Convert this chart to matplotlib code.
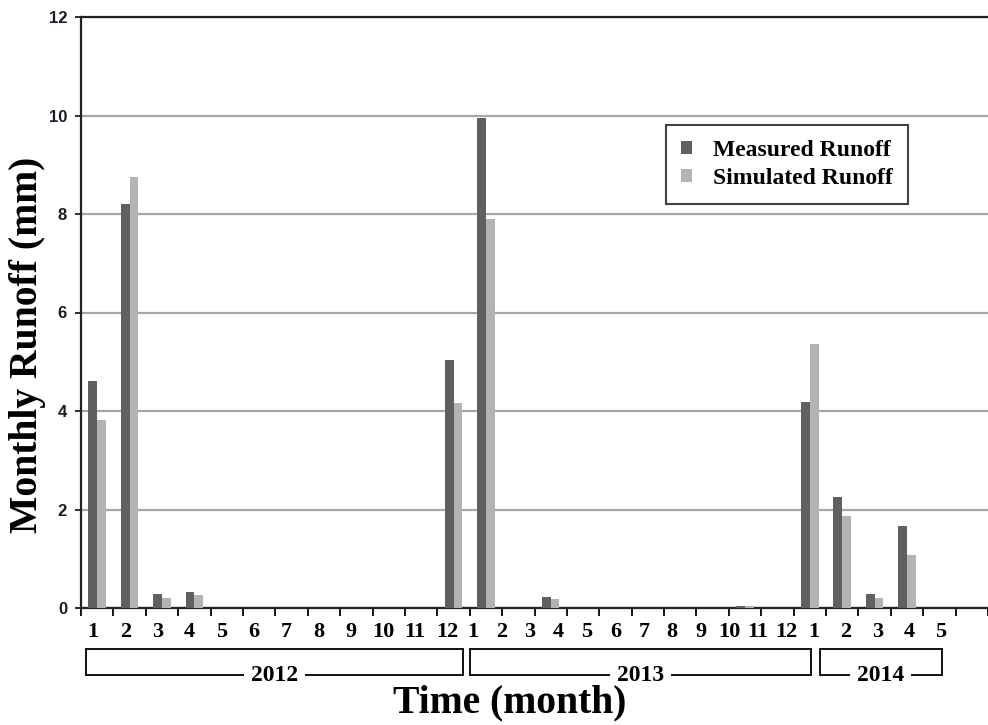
import numpy as np
import matplotlib
matplotlib.use('agg')
from matplotlib import pyplot as plt
from matplotlib.patches import Rectangle
from matplotlib import transforms

# month slots, Jan 2012 .. May 2014
years = ['2012', '2013', '2014']
months_per_year = [12, 12, 5]
month_labels = [str(m) for n in months_per_year for m in range(1, n + 1)]

measured = [4.60, 8.21, 0.29, 0.33, 0, 0, 0, 0, 0, 0, 0, 5.04,
            9.95, 0, 0.22, 0, 0, 0, 0, 0, 0.05, 0, 4.18, 2.26,
            0.28, 1.67, 0, 0, 0]
simulated = [3.82, 8.76, 0.21, 0.26, 0, 0, 0, 0, 0, 0, 0, 4.17,
             7.90, 0, 0.18, 0, 0, 0, 0, 0, 0.04, 0, 5.37, 1.87,
             0.21, 1.08, 0, 0, 0]

serif = 'Liberation Serif'
sans = 'Liberation Sans'

fig = plt.figure(figsize=(9.88, 7.25), dpi=100)
ax = fig.add_axes([81 / 988, 1 - 608 / 725, 1 - 81 / 988, 591 / 725])

x = np.arange(len(measured))
w = 0.27
ax.bar(x - w / 2, measured, width=w, color='#606060', label='Measured Runoff', zorder=3)
ax.bar(x + w / 2, simulated, width=w, color='#b3b3b3', label='Simulated Runoff', zorder=3)

ax.set_ylim(0, 12)
ax.set_xlim(-0.5, 27.15)  # right part of the original is cut off
ax.set_yticks(range(0, 13, 2))
ax.yaxis.grid(True, color='#a6a6a6', linewidth=1.6, zorder=0)
for lbl in ax.get_yticklabels():
    lbl.set_fontfamily(sans)
    lbl.set_fontweight('bold')
    lbl.set_fontsize(12)
ax.tick_params(axis='y', length=4, width=1.3, pad=6, colors='#1a1a2a')

# tick marks between months, labels drawn as minor ticks (they are not aligned in the original)
ax.set_xticks(np.arange(-0.5, 28, 1.0))
ax.tick_params(axis='x', which='major', length=6, width=1.3, labelbottom=False)
spans = [(-0.13, 10.81), (11.60, 21.27), (22.12, 26.05)]
label_pos = np.concatenate([np.linspace(a, b, n) for (a, b), n in zip(spans, months_per_year)])
ax.set_xticks(label_pos, minor=True)
ax.set_xticklabels(month_labels, minor=True, fontfamily=serif, fontweight='bold', fontsize=16)
ax.tick_params(axis='x', which='minor', length=0, pad=10)

for s in ['left', 'bottom', 'top']:
    ax.spines[s].set_linewidth(1.6)
    ax.spines[s].set_color('#222222')
ax.spines['right'].set_visible(False)

# year boxes under the month labels
trans = transforms.blended_transform_factory(ax.transData, ax.transAxes)
boxes = [(-0.35, 11.30), (11.51, 22.03), (22.30, 26.08)]
for year, (a, b) in zip(years, boxes):
    ax.add_patch(Rectangle((a, -0.1134), b - a, 0.044, transform=trans, fill=False,
                           edgecolor='#111111', linewidth=1.4, clip_on=False))
    ax.text((a + b) / 2, -0.1134, year, transform=trans, ha='center', va='center',
            fontfamily=serif, fontweight='bold', fontsize=17,
            bbox=dict(facecolor='white', edgecolor='none', pad=5))

leg = ax.legend(loc='upper left', bbox_to_anchor=(0.645, 0.818), frameon=True, fancybox=False,
                prop=dict(family=serif, weight='bold', size=17),
                handlelength=0.45, handleheight=0.45, handletextpad=0.9,
                borderpad=0.65, labelspacing=0.3, borderaxespad=0)
leg.get_frame().set_edgecolor('#111111')
leg.get_frame().set_linewidth(1.5)

fig.text(0.516, 0.03, 'Time (month)', ha='center', va='center',
         fontfamily=serif, fontweight='bold', fontsize=28.5)
fig.text(0.028, 0.524, 'Monthly Runoff (mm)', ha='center', va='center', rotation=90,
         fontfamily=serif, fontweight='bold', fontsize=28.5)

fig.savefig('out.png', dpi=100)
